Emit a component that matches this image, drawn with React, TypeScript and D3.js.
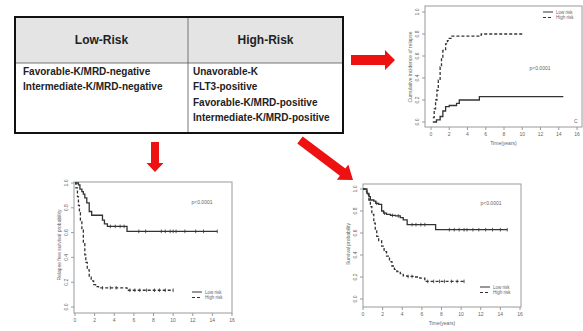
import React from 'react';
import * as d3 from 'd3';

// ---------- data ----------
const xTicks = [0, 2, 4, 6, 8, 10, 12, 14, 16];
const yTicks = [0, 0.2, 0.4, 0.6, 0.8, 1.0];
const headers = ['Low-Risk', 'High-Risk'];
const lowRiskGroups = ['Favorable-K/MRD-negative', 'Intermediate-K/MRD-negative'];
const highRiskGroups = ['Unavorable-K', 'FLT3-positive', 'Favorable-K/MRD-positive', 'Intermediate-K/MRD-positive'];
const legendLabels = ['Low risk', 'High risk'];
const pValue = 'p<0.0001';

// Cumulative incidence of relapse
const cirLowT = [0.2, 0.6, 1.0, 1.3, 1.6, 2.0, 2.8, 3.1, 5.3, 14.5];
const cirLowV = [0.0, 0.02, 0.05, 0.10, 0.14, 0.15, 0.17, 0.20, 0.23, 0.23];
const cirHighT = [0.2, 0.35, 0.5, 0.65, 0.8, 1.0, 1.15, 1.3, 1.6, 1.8, 2.0, 2.3, 5.5, 10.0];
const cirHighV = [0.04, 0.12, 0.2, 0.29, 0.38, 0.5, 0.58, 0.65, 0.71, 0.74, 0.76, 0.78, 0.80, 0.80];

// Relapse free survival
const rfsLowT = [0, 0.35, 0.5, 0.7, 0.85, 1.0, 1.2, 1.45, 1.7, 2.8, 3.0, 3.3, 5.3, 14.5];
const rfsLowV = [1, 0.985, 0.95, 0.93, 0.91, 0.88, 0.84, 0.77, 0.74, 0.70, 0.67, 0.65, 0.61, 0.61];
const rfsLowCens = [3.6, 4.1, 4.6, 5.0, 6.5, 7.2, 8.8, 9.2, 9.7, 10.0, 10.3, 11.2, 12.3, 13.1, 14.5];
const rfsHighT = [0, 0.1, 0.25, 0.35, 0.45, 0.55, 0.7, 0.85, 1.0, 1.1, 1.25, 1.45, 1.65, 1.9, 2.1, 2.4, 5.3, 10.0];
const rfsHighV = [1, 0.96, 0.89, 0.82, 0.76, 0.70, 0.62, 0.51, 0.42, 0.36, 0.30, 0.24, 0.21, 0.18, 0.165, 0.155, 0.135, 0.135];
const rfsHighCens = [2.8, 3.6, 4.2, 5.6, 6.1, 6.6, 7.3, 8.1, 8.6, 9.2, 10.0];

// Overall survival
const osLowT = [0, 0.4, 0.6, 0.75, 1.1, 1.3, 1.6, 1.9, 2.1, 2.4, 2.8, 3.3, 3.8, 4.1, 4.5, 7.4, 14.7];
const osLowV = [1, 0.96, 0.93, 0.90, 0.89, 0.87, 0.86, 0.80, 0.78, 0.77, 0.76, 0.755, 0.74, 0.72, 0.676, 0.63, 0.63];
const osLowCens = [1.4, 2.2, 3.0, 3.6, 5.0, 5.4, 5.9, 6.3, 8.8, 9.3, 9.8, 10.3, 10.6, 11.2, 11.8, 12.5, 13.2, 14.0, 14.7];
const osHighT = [0, 0.2, 0.4, 0.6, 0.75, 0.9, 1.1, 1.25, 1.4, 1.6, 1.9, 2.15, 2.4, 2.7, 2.95, 3.2, 3.45, 3.8, 4.1, 4.5, 5.2, 5.8, 6.3, 10.3];
const osHighV = [1, 0.98, 0.95, 0.90, 0.84, 0.77, 0.69, 0.62, 0.57, 0.53, 0.48, 0.43, 0.39, 0.34, 0.30, 0.27, 0.25, 0.23, 0.21, 0.205, 0.20, 0.19, 0.16, 0.16];
const osHighCens = [4.6, 5.0, 6.6, 7.2, 7.8, 8.3, 9.0, 9.6, 10.3];

// ---------- helpers ----------
const RED = '#ee1111';
const CURVE = '#333';
const AXIS = '#9a9a9a';
const TXT = '#666';
const FONT = '"Liberation Sans", Arial, sans-serif';

function stepAt(ts: number[], vs: number[], t: number) {
  let v = vs[0];
  for (let i = 0; i < ts.length; i++) if (ts[i] <= t) v = vs[i];
  return v;
}

type Series = { t: number[]; v: number[]; dashed: boolean; cens?: number[] };

type ChartProps = {
  box: { l: number; r: number; t: number; b: number };
  xPx: [number, number];
  yPx: [number, number];
  series: Series[];
  yLabel: string;
  xLabel?: string;
  pPos: [number, number];
  legend: { x: number; y: number };
  corner?: string;
};

function KMChart({ box, xPx, yPx, series, yLabel, xLabel, pPos, legend, corner }: ChartProps) {
  const x = d3.scaleLinear().domain([0, 16]).range(xPx);
  const y = d3.scaleLinear().domain([0, 1]).range(yPx);
  const line = d3
    .line<[number, number]>()
    .x((d) => x(d[0]))
    .y((d) => y(d[1]))
    .curve(d3.curveStepAfter);
  const fs = 5;
  return (
    <g fontFamily={FONT}>
      <rect x={box.l} y={box.t} width={box.r - box.l} height={box.b - box.t} fill="white" stroke={AXIS} strokeWidth={1} />
      {xTicks.map((t) => (
        <g key={'x' + t}>
          <line x1={x(t)} x2={x(t)} y1={box.b} y2={box.b + 3} stroke={AXIS} />
          <text x={x(t)} y={box.b + 9} fontSize={fs} fill={TXT} textAnchor="middle">
            {t}
          </text>
        </g>
      ))}
      {yTicks.map((t) => (
        <g key={'y' + t}>
          <line x1={box.l - 3} x2={box.l} y1={y(t)} y2={y(t)} stroke={AXIS} />
          <text
            transform={`translate(${box.l - 6},${y(t)}) rotate(-90)`}
            fontSize={fs}
            fill={TXT}
            textAnchor="middle"
          >
            {t.toFixed(1)}
          </text>
        </g>
      ))}
      <text
        transform={`translate(${box.l - 13},${(y(0) + y(1)) / 2}) rotate(-90)`}
        fontSize={fs}
        fill={TXT}
        textAnchor="middle"
      >
        {yLabel}
      </text>
      {xLabel && (
        <text x={(box.l + box.r) / 2} y={box.b + 18} fontSize={fs} fill={TXT} textAnchor="middle">
          {xLabel}
        </text>
      )}
      {series.map((s, i) => {
        const pts: [number, number][] = s.t.map((t, j) => [t, s.v[j]]);
        return (
          <g key={'s' + i}>
            <path
              d={line(pts) || ''}
              fill="none"
              stroke={CURVE}
              strokeWidth={1.3}
              strokeDasharray={s.dashed ? '3,2' : undefined}
            />
            {(s.cens || []).map((c, k) => (
              <line
                key={k}
                x1={x(c)}
                x2={x(c)}
                y1={y(stepAt(s.t, s.v, c)) - 1.8}
                y2={y(stepAt(s.t, s.v, c)) + 1.8}
                stroke={CURVE}
                strokeWidth={0.8}
              />
            ))}
          </g>
        );
      })}
      <text x={pPos[0]} y={pPos[1]} fontSize={fs} fill={TXT} textAnchor="middle">
        {pValue}
      </text>
      {legendLabels.map((lab, i) => (
        <g key={'l' + i}>
          <line
            x1={legend.x}
            x2={legend.x + 10}
            y1={legend.y + i * 5.5}
            y2={legend.y + i * 5.5}
            stroke={CURVE}
            strokeWidth={1}
            strokeDasharray={i === 1 ? '3,2' : undefined}
          />
          <text x={legend.x + 13} y={legend.y + i * 5.5 + 1.7} fontSize={4.5} fill={TXT}>
            {lab}
          </text>
        </g>
      ))}
      {corner && (
        <text x={box.r - 8} y={box.b - 4} fontSize={5} fill={TXT}>
          {corner}
        </text>
      )}
    </g>
  );
}

function Table() {
  const L = 15, R = 343, T = 17, B = 133, H = 63, D = 188;
  return (
    <g fontFamily={FONT} fontWeight="bold">
      <rect x={L} y={T} width={R - L} height={H - T} fill="#e4e4e4" />
      <rect x={L} y={H} width={R - L} height={B - H} fill="white" />
      <line x1={L} x2={R} y1={H} y2={H} stroke="#555" strokeWidth={0.8} />
      <line x1={D} x2={D} y1={T} y2={B} stroke="#555" strokeWidth={0.8} />
      <rect x={L} y={T} width={R - L} height={B - T} fill="none" stroke="#111" strokeWidth={2} />
      <text x={(L + D) / 2} y={(T + H) / 2 + 4} fontSize={12} textAnchor="middle" fill="#222">
        {headers[0]}
      </text>
      <text x={(D + R) / 2} y={(T + H) / 2 + 4} fontSize={12} textAnchor="middle" fill="#222">
        {headers[1]}
      </text>
      {lowRiskGroups.map((g, i) => (
        <text key={g} x={23} y={74.5 + i * 15.6} fontSize={10} fill="#222">
          {g}
        </text>
      ))}
      {highRiskGroups.map((g, i) => (
        <text key={g} x={193} y={74.5 + i * 15.6} fontSize={10} fill="#222">
          {g}
        </text>
      ))}
    </g>
  );
}

function Arrow({ x1, y1, x2, y2, shaft, head, headLen }: { x1: number; y1: number; x2: number; y2: number; shaft: number; head: number; headLen: number }) {
  const len = Math.hypot(x2 - x1, y2 - y1);
  const ang = (Math.atan2(y2 - y1, x2 - x1) * 180) / Math.PI;
  const s = shaft / 2, h = head / 2, b = len - headLen;
  const d = `M0,${-s} L${b},${-s} L${b},${-h} L${len},0 L${b},${h} L${b},${s} L0,${s} Z`;
  return <path d={d} fill={RED} transform={`translate(${x1},${y1}) rotate(${ang})`} />;
}

export default function App() {
  return (
    <svg width={583} height={331} style={{ position: 'absolute', left: 0, top: 0, background: 'white' }}>
      <rect width={583} height={331} fill="white" />
      <Table />
      <Arrow x1={351} y1={60} x2={395} y2={60} shaft={10} head={20} headLen={10} />
      <Arrow x1={155} y1={142} x2={155} y2={172} shaft={8} head={17} headLen={9} />
      <Arrow x1={300} y1={140} x2={353} y2={180} shaft={9} head={19} headLen={13} />
      <KMChart
        box={{ l: 425, r: 582, t: 6, b: 127 }}
        xPx={[431, 577]}
        yPx={[122, 12]}
        series={[
          { t: cirLowT, v: cirLowV, dashed: false },
          { t: cirHighT, v: cirHighV, dashed: true },
        ]}
        yLabel="Cumulative incidence of relapse"
        xLabel="Time(years)"
        pPos={[540, 70]}
        legend={{ x: 543, y: 12 }}
        corner="C"
      />
      <KMChart
        box={{ l: 74, r: 232, t: 182, b: 313 }}
        xPx={[75, 232]}
        yPx={[307, 183]}
        series={[
          { t: rfsLowT, v: rfsLowV, dashed: false, cens: rfsLowCens },
          { t: rfsHighT, v: rfsHighV, dashed: true, cens: rfsHighCens },
        ]}
        yLabel="Relapse free survival probability"
        pPos={[202, 204]}
        legend={{ x: 192, y: 292 }}
      />
      <KMChart
        box={{ l: 363, r: 521, t: 184, b: 307 }}
        xPx={[363, 520]}
        yPx={[299, 189]}
        series={[
          { t: osLowT, v: osLowV, dashed: false, cens: osLowCens },
          { t: osHighT, v: osHighV, dashed: true, cens: osHighCens },
        ]}
        yLabel="Survival probability"
        xLabel="Time(years)"
        pPos={[491, 205]}
        legend={{ x: 480, y: 287 }}
      />
    </svg>
  );
}
